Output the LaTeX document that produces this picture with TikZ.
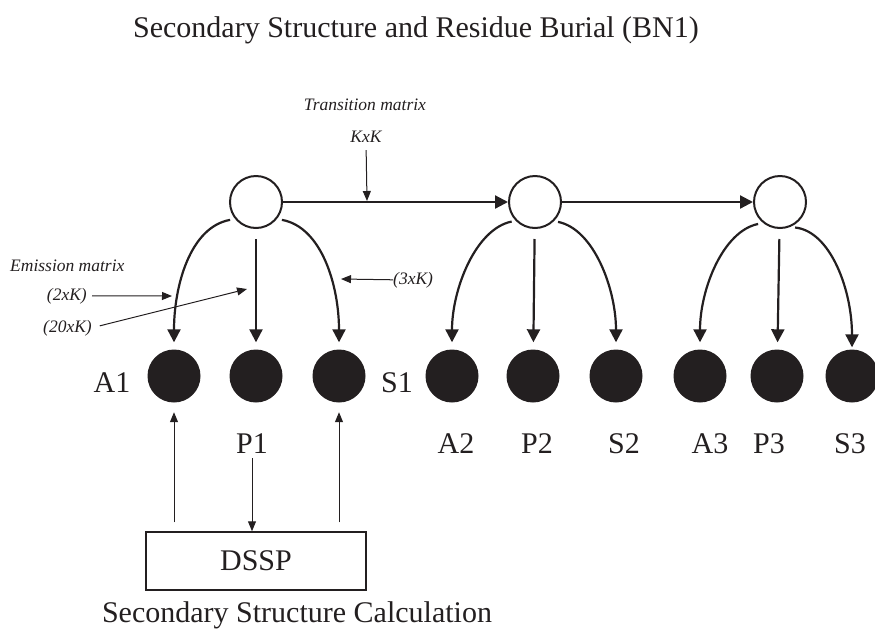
\documentclass[tikz,border=0pt]{standalone}
\usepackage{fontspec}
\setmainfont{Liberation Serif}
\usetikzlibrary{arrows.meta,calc}
\definecolor{ink}{HTML}{231F20}
\begin{document}
\begin{tikzpicture}[x=1pt,y=-1pt,
  big/.style={font=\fontsize{30}{36}\selectfont, text=ink, inner sep=0pt},
  small/.style={font=\fontsize{17.5}{21}\selectfont\itshape, text=ink, inner sep=0pt},
  hidden/.style={circle, draw=ink, line width=2pt, minimum size=52pt, inner sep=0pt, fill=white},
  obs/.style={circle, fill=ink, minimum size=53pt, inner sep=0pt},
  heavy/.style={draw=ink, line width=2.2pt, -{Triangle[length=13pt,width=13pt]}},
  light/.style={draw=ink, line width=1pt, -{Triangle[length=10pt,width=8pt]}},
]
\useasboundingbox (0,0) rectangle (875,630);

% title
\node[big, anchor=base] (title) at (416,37) {Secondary Structure and Residue Burial (BN1)};

% hidden states
\node[hidden] (h1) at (256,202) {};
\node[hidden] (h2) at (535,202) {};
\node[hidden] (h3) at (780,202) {};

% observed variables
\node[obs] (a1) at (174,376) {};
\node[obs] (p1) at (256,376) {};
\node[obs] (s1) at (339,376) {};
\node[obs] (a2) at (452,376) {};
\node[obs] (p2) at (533,376) {};
\node[obs] (s2) at (616,376) {};
\node[obs] (a3) at (700,376) {};
\node[obs] (p3) at (777,376) {};
\node[obs] (s3) at (852,376) {};

% observed labels
\node[big, anchor=base] (la1) at (112,392) {A1};
\node[big, anchor=base] (ls1) at (397,392) {S1};
\node[big, anchor=base] (lp1) at (252,453) {P1};
\node[big, anchor=base] (la2) at (456,453) {A2};
\node[big, anchor=base] (lp2) at (537,453) {P2};
\node[big, anchor=base] (ls2) at (624,453) {S2};
\node[big, anchor=base] (la3) at (710,453) {A3};
\node[big, anchor=base] (lp3) at (769,453) {P3};
\node[big, anchor=base] (ls3) at (850,453) {S3};

% DSSP box and caption
\node[big, draw=ink, line width=1.5pt, minimum width=220pt, minimum height=58pt] (dssp) at (256,561) {DSSP};
\node[big, anchor=base] (calc) at (297,622) {Secondary Structure Calculation};

% matrix annotations
\node[small, anchor=base] (trans) at (365,110) {Transition matrix};
\node[small, anchor=base] (kxk) at (366,142) {KxK};
\node[small, anchor=base west] (emis) at (10,271) {Emission matrix};
\node[small, anchor=base east] (e2) at (87,300) {(2xK)};
\node[small, anchor=base east] (e20) at (92,332) {(20xK)};
\node[small, anchor=base west] (e3) at (393,284) {(3xK)};

\coordinate (tm) at (367,201);
\coordinate (e2tip) at (172,296);
\coordinate (e20tip) at (247,289);
\coordinate (e3tip) at (341,279);

% transitions
\draw[heavy] (h1) -- (h2);
\draw[heavy] (h2) -- (h3);

% emissions
\draw[heavy, shorten <=5pt, shorten >=7pt] (h1.219) .. controls +(-45,8) and +(0,-63) .. (a1.north);
\draw[heavy, shorten <=10pt, shorten >=7pt] (h1) -- (p1);
\draw[heavy, shorten <=5pt, shorten >=7pt] (h1.321) .. controls +(45,8) and +(0,-63) .. (s1.north);

\draw[heavy, shorten <=4pt, shorten >=7pt] (h2.224) .. controls +(-40,8) and +(0,-60) .. (a2.north);
\draw[heavy, shorten <=10pt, shorten >=7pt] (h2) -- (p2);
\draw[heavy, shorten <=4pt, shorten >=7pt] (h2.315) .. controls +(40,8) and +(0,-60) .. (s2.north);

\draw[heavy, shorten <=5pt, shorten >=7pt] (h3.231) .. controls +(-40,8) and +(0,-60) .. (a3.north);
\draw[heavy, shorten <=10pt, shorten >=7pt] (h3) -- (p3);
\draw[heavy, shorten <=5pt, shorten >=2pt] (h3.292) .. controls +(40,4) and +(0,-60) .. (s3.north);

% annotation pointers
\draw[light, shorten <=8pt] (kxk.south) -- (tm);
\draw[light, shorten <=5pt] (e2.east) -- (e2tip);
\draw[light, shorten <=8pt] (e20.east) -- (e20tip);
\draw[light] (e3.west) -- (e3tip);

% DSSP links
\draw[light, shorten <=9pt, shorten >=9.5pt] (dssp.north -| a1) -- (a1.south);
\draw[light, shorten <=9pt, shorten >=9.5pt] (dssp.north -| s1) -- (s1.south);
\draw[light, shorten <=5pt] (lp1.south) -- (lp1.south |- dssp.north);
\end{tikzpicture}
\end{document}
